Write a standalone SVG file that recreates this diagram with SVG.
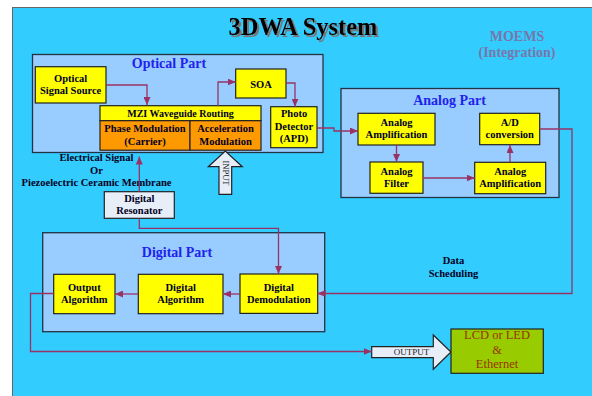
<svg xmlns="http://www.w3.org/2000/svg" width="592" height="396" viewBox="0 0 592 396">
<defs>
<marker id="ah" markerUnits="userSpaceOnUse" markerWidth="8" markerHeight="7" refX="8" refY="3.5" orient="auto">
<path d="M0,0 L8,3.5 L0,7 z" fill="#993366"/>
</marker>
<filter id="shadow" x="-5%" y="-20%" width="115%" height="150%">
<feDropShadow dx="2" dy="2" stdDeviation="0.3" flood-color="#777" flood-opacity="1"/>
</filter>
<style>
.bg{fill:#33CCFF;stroke:#666;stroke-width:1}
.part{fill:#99CCFF;stroke:#223344;stroke-width:1.3}
.box{fill:#FFFF00;stroke:#222;stroke-width:1.2}
.obox{fill:#FF9900;stroke:#222;stroke-width:1.2}
.pale{fill:#E8EEF8;stroke:#222;stroke-width:1.2}
.green{fill:#99CC00;stroke:#222;stroke-width:1.2}
.t{font-family:"Liberation Serif","Times New Roman",serif;font-weight:bold;font-size:10.5px;fill:#000022;text-anchor:middle}
.pt{font-family:"Liberation Serif","Times New Roman",serif;font-weight:bold;font-size:14px;fill:#2222EE;text-anchor:middle}
.sm{font-family:"Liberation Serif","Times New Roman",serif;font-size:8.5px;fill:#222;text-anchor:middle}
.lcd{font-family:"Liberation Serif","Times New Roman",serif;font-size:12.5px;fill:#993300;text-anchor:middle}
.c{fill:none;stroke:#993366;stroke-width:1.3;marker-end:url(#ah)}
</style>
</defs>
<rect class="bg" x="12.5" y="7.5" width="590" height="400"/>
<g id="title">
<text x="303" y="35" filter="url(#shadow)" style="font-family:'Liberation Serif',serif;font-weight:bold;font-size:24.5px;fill:#000;text-anchor:middle">3DWA System</text>
</g>
<g id="moems">
<text x="517" y="41" style="font-family:'Liberation Serif',serif;font-weight:bold;font-size:14px;fill:#7777AA;text-anchor:middle">MOEMS</text>
<text x="517" y="57" style="font-family:'Liberation Serif',serif;font-weight:bold;font-size:14px;fill:#7777AA;text-anchor:middle">(Integration)</text>
</g>
<g id="optical-part">
<rect class="part" x="32.5" y="54.5" width="290.5" height="98"/>
<text class="pt" x="169" y="68">Optical Part</text>
</g>
<g id="analog-part">
<rect class="part" x="341" y="88.5" width="218" height="109"/>
<text class="pt" x="449.5" y="105">Analog Part</text>
</g>
<g id="digital-part">
<rect class="part" x="42.7" y="232.7" width="282" height="99"/>
<text class="pt" x="177" y="257">Digital Part</text>
</g>
<g id="optical-source">
<rect class="box" x="35.3" y="66.7" width="70.7" height="36.3"/>
<text class="t" x="70.6" y="82">Optical</text>
<text class="t" x="70.6" y="94">Signal Source</text>
</g>
<g id="mzi">
<rect class="box" x="100" y="105.7" width="161" height="15"/>
<text class="t" x="180.5" y="117" style="font-size:10px">MZI Waveguide Routing</text>
</g>
<g id="phase-mod">
<rect class="obox" x="100" y="120.7" width="90" height="29.5"/>
<text class="t" x="145" y="132">Phase Modulation</text>
<text class="t" x="145" y="145">(Carrier)</text>
</g>
<g id="accel-mod">
<rect class="obox" x="190" y="120.7" width="71" height="29.5"/>
<text class="t" x="225.5" y="132">Acceleration</text>
<text class="t" x="225.5" y="145">Modulation</text>
</g>
<g id="soa">
<rect class="box" x="235.7" y="69" width="50.3" height="29"/>
<text class="t" x="261" y="87.5">SOA</text>
</g>
<g id="photo-detector">
<rect class="box" x="270.7" y="106.7" width="46.3" height="41"/>
<text class="t" x="294" y="117">Photo</text>
<text class="t" x="294" y="129.5">Detector</text>
<text class="t" x="294" y="142">(APD)</text>
</g>
<g id="analog-amp1">
<rect class="box" x="358" y="113.3" width="77" height="31.7"/>
<text class="t" x="396.5" y="126">Analog</text>
<text class="t" x="396.5" y="138">Amplification</text>
</g>
<g id="analog-filter">
<rect class="box" x="370" y="162" width="53" height="31.3"/>
<text class="t" x="396.5" y="175">Analog</text>
<text class="t" x="396.5" y="186.5">Filter</text>
</g>
<g id="analog-amp2">
<rect class="box" x="474.7" y="162.3" width="71" height="31.4"/>
<text class="t" x="510.2" y="175">Analog</text>
<text class="t" x="510.2" y="186.5">Amplification</text>
</g>
<g id="ad-conversion">
<rect class="box" x="479.7" y="113.3" width="60" height="31.4"/>
<text class="t" x="509.7" y="125.5">A/D</text>
<text class="t" x="509.7" y="137.5">conversion</text>
</g>
<g id="output-algorithm">
<rect class="box" x="53.7" y="274.3" width="61.3" height="39.4"/>
<text class="t" x="84.3" y="291">Output</text>
<text class="t" x="84.3" y="303">Algorithm</text>
</g>
<g id="digital-algorithm">
<rect class="box" x="138.3" y="274.3" width="84.7" height="39.4"/>
<text class="t" x="180.7" y="291">Digital</text>
<text class="t" x="180.7" y="303">Algorithm</text>
</g>
<g id="digital-demodulation">
<rect class="box" x="240" y="274" width="77.7" height="39.4"/>
<text class="t" x="278.8" y="291">Digital</text>
<text class="t" x="278.8" y="303">Demodulation</text>
</g>
<g id="digital-resonator">
<rect class="pale" x="104.3" y="191.7" width="70" height="26.6"/>
<text class="t" x="139.3" y="202">Digital</text>
<text class="t" x="139.3" y="214">Resonator</text>
</g>
<g id="electrical-signal">
<text class="t" x="96.5" y="161">Electrical Signal</text>
<text class="t" x="96.5" y="174">Or</text>
<text class="t" x="96.5" y="186">Piezoelectric Ceramic Membrane</text>
</g>
<g id="data-scheduling">
<text class="t" x="453.5" y="264">Data</text>
<text class="t" x="453.5" y="276.5">Scheduling</text>
</g>
<g id="input-arrow">
<polygon class="pale" points="219,194.3 219,166.7 208.3,166.7 225.3,151 242.3,166.7 231.7,166.7 231.7,194.3"/>
<text class="sm" transform="translate(222.5,173) rotate(90)" x="0" y="0">INPUT</text>
</g>
<g id="output-arrow">
<polygon class="pale" points="371.7,346.7 433.3,346.7 433.3,335 451,352 433.3,369.3 433.3,357.7 371.7,357.7"/>
<text class="sm" x="411.5" y="355" style="font-size:9px">OUTPUT</text>
</g>
<g id="lcd">
<rect class="green" x="451" y="329" width="92.3" height="44.3"/>
<text class="lcd" x="497" y="339">LCD or LED</text>
<text class="lcd" x="497" y="354">&amp;</text>
<text class="lcd" x="497" y="368">Ethernet</text>
</g>
<g id="connectors">
<path class="c" d="M106,85 H147 V105"/>
<path class="c" d="M218,105.7 V82 H235.7"/>
<path class="c" d="M286,83 H295 V106.7"/>
<path class="c" d="M317,128 H334 V131 H358"/>
<path class="c" d="M396.5,145 V162"/>
<path class="c" d="M423,178 H474.7"/>
<path class="c" d="M510,162.3 V145"/>
<path class="c" d="M539.7,129 H572 V293.5 H317.7"/>
<path class="c" d="M240,294 H223"/>
<path class="c" d="M138.3,294 H115"/>
<path class="c" d="M53.7,293.5 H30.5 V351.5 H371.7"/>
<path class="c" d="M139.3,191.7 V156.5"/>
<path class="c" d="M139.3,218.3 V228.3 H278.5 V274"/>
</g>
</svg>
